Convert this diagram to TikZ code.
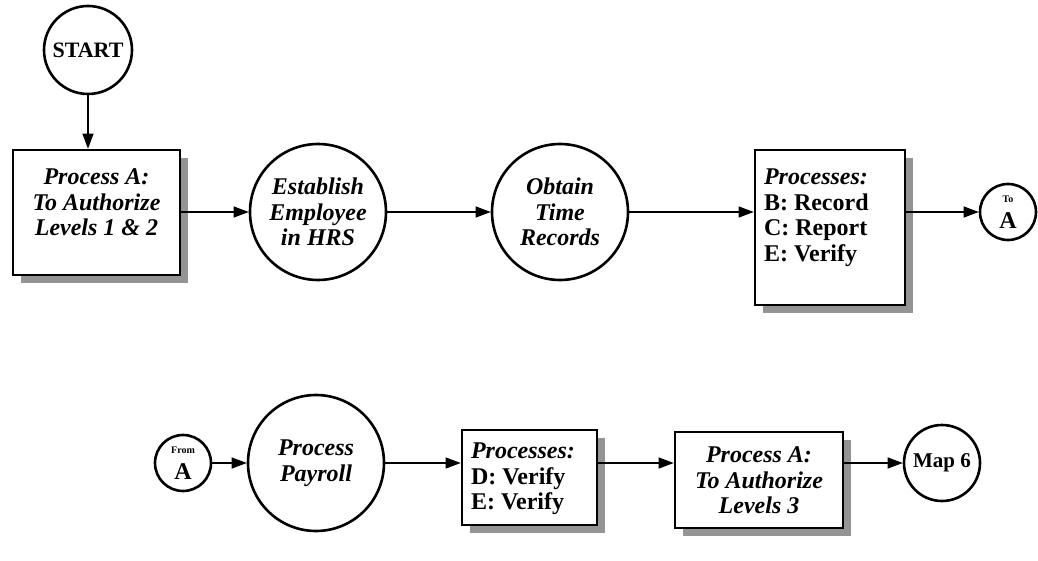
\documentclass[tikz,border=0pt]{standalone}
\usepackage{fontspec}
\setmainfont{Liberation Serif}
\usetikzlibrary{arrows.meta, shadows}

% text hung from the top of a fixed box
\newcommand{\topfill}[3]{\parbox[c][#1][t]{#2}{#3}}
\newcommand{\mapfont}{\fontsize{24}{25.5}\selectfont\bfseries}

\begin{document}
\begin{tikzpicture}[
  x=1pt, y=-1pt,
  font=\mapfont,
  term/.style={draw, circle, line width=2.6pt, inner sep=0pt, align=center, fill=white},
  slant/.style={font=\mapfont\itshape},
  proc/.style={draw, rectangle, line width=2.6pt, inner sep=0pt, fill=white,
    drop shadow={shadow xshift=8pt, shadow yshift=-8pt, fill=black!42, opacity=1}},
  arr/.style={-{Triangle[length=15pt, width=11pt]}, line width=1.1pt},
]
  \useasboundingbox (0,0) rectangle (1038,561);

  % top row
  \node[term, minimum size=88pt, font=\fontsize{22}{24}\selectfont\bfseries] (start) at (88,50) {START};
  \node[proc] (pa1) at (96.5,212.5)
    {\topfill{125pt}{167pt}{\centering\itshape\vspace*{19pt}Process A:\\To Authorize\\Levels 1 \& 2}};
  \node[term, slant, minimum size=136pt] (est) at (318,212) {Establish\\Employee\\in HRS};
  \node[term, slant, minimum size=136pt] (obt) at (560,212) {Obtain\\Time\\Records};
  \node[proc] (prc) at (830,227.5)
    {\topfill{155pt}{150pt}{\leftskip=9pt\vspace*{19pt}{\itshape Processes:}\\B: Record\\C: Report\\E: Verify}};
  \node[term, minimum size=56pt] (toa) at (1008,212) {{\fontsize{10}{10}\selectfont To}\\A};

  % bottom row
  \node[term, minimum size=56pt] (froma) at (183,463) {{\fontsize{10}{10}\selectfont From}\\A};
  \node[term, slant, minimum size=136pt] (pay) at (316,463) {Process\\Payroll};
  \node[proc] (prd) at (529.5,477.5)
    {\topfill{95pt}{135pt}{\leftskip=9pt\vspace*{13pt}{\itshape Processes:}\\D: Verify\\E: Verify}};
  \node[proc] (pa3) at (759,480)
    {\topfill{96pt}{168pt}{\centering\itshape\vspace*{15pt}Process A:\\To Authorize\\Levels 3}};
  \node[term, minimum size=76pt, font=\fontsize{21}{24}\selectfont\bfseries] (map) at (942,463) {Map 6};

  % connectors
  \draw[arr] (start) -- (start |- pa1.north);
  \draw[arr] (pa1.east |- est) -- (est.west);
  \draw[arr] (est) -- (obt);
  \draw[arr] (obt.east) -- (obt.east -| prc.west);
  \draw[arr] (prc.east |- toa) -- (toa.west);
  \draw[arr] (froma) -- (pay);
  \draw[arr] (pay.east) -- (pay.east -| prd.west);
  \draw[arr] (prd.east |- pay) -- (pay -| pa3.west);
  \draw[arr] (pa3.east |- map) -- (map.west);
\end{tikzpicture}
\end{document}
